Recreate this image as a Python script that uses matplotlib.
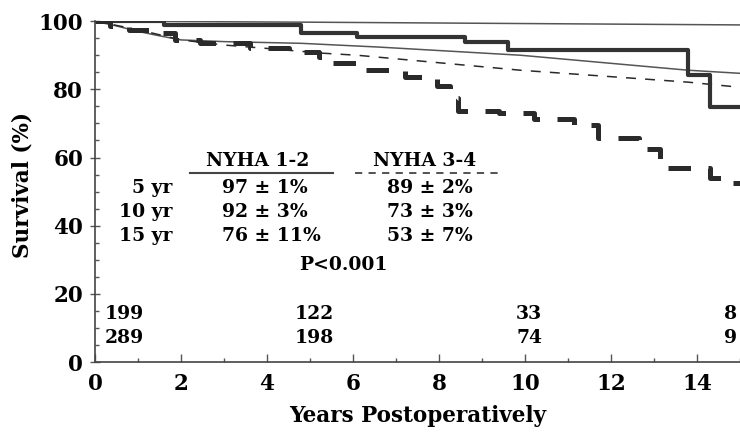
import matplotlib.pyplot as plt
from matplotlib.ticker import MultipleLocator

# Kaplan-Meier survival
years_12 = [0, 1.6, 4.8, 6.1, 8.6, 9.6, 13.8, 14.3, 15]
surv_12 = [100, 98.8, 96.5, 95.3, 93.8, 91.5, 84.2, 74.8, 74.8]

years_34 = [0, 0.35, 0.8, 1.3, 1.85, 2.45, 3.6, 4.5, 5.2, 5.45, 6.25, 7.2,
            7.95, 8.25, 8.45, 9.4, 10.2, 11.15, 11.7, 12.65, 13.15, 14.3, 14.7, 15]
surv_34 = [100, 98.5, 97.5, 96.5, 94.5, 93.5, 92, 91, 89.5, 87.7, 85.6, 83.5,
           81, 77.5, 73.6, 73, 71.3, 69.5, 65.6, 62.5, 56.8, 54, 52.5, 52.5]

# expected survival curves (thin lines)
exp_top_years = [0, 5, 10, 15]
exp_top = [100, 99.7, 99.3, 98.9]
exp_12_years = [0, 0.5, 1, 1.5, 2, 3, 4.8, 6.6, 9.9, 13.8, 15]
exp_12 = [100, 98.6, 97, 95.7, 94.5, 94, 93.5, 92.4, 90, 85.6, 84.7]
exp_34_years = [0, 1, 2, 3, 4, 5.3, 6.1, 9.9, 13.8, 15]
exp_34 = [100, 97.5, 94.5, 93, 92, 90.6, 90, 85.6, 82.1, 80.6]

# table text
row_labels = ['5 yr', '10 yr', '15 yr']
col_12 = ['97 ± 1%', '92 ± 3%', '76 ± 11%']
col_34 = ['89 ± 2%', '73 ± 3%', '53 ± 7%']

# numbers at risk
risk_x = [0.69, 5.1, 10.1, 14.77]
risk_12 = ['199', '122', '33', '8']
risk_34 = ['289', '198', '74', '9']

plt.rcParams['font.family'] = 'DejaVu Serif'
plt.rcParams['font.weight'] = 'bold'
plt.rcParams['axes.labelweight'] = 'bold'

fig = plt.figure(figsize=(7.4, 4.32), dpi=100)
ax = fig.add_axes([0.1284, 0.162, 1 - 0.1284, 0.789])

ink = '#2a2a2a'
ax.plot(exp_top_years, exp_top, color='#555555', lw=1.1)
ax.plot(exp_12_years, exp_12, color='#555555', lw=1.1)
ax.plot(exp_34_years, exp_34, color=ink, lw=1.1, dashes=(6.5, 6))
ax.plot(years_12, surv_12, color='#333333', lw=3, drawstyle='steps-post')
ax.plot(years_34, surv_34, color=ink, lw=3.6, drawstyle='steps-post',
        dashes=(4.5, 3.5))

ax.set_xlim(0, 15)
ax.set_ylim(0, 100)
for s in ['top', 'right']:
    ax.spines[s].set_visible(False)
for s in ['left', 'bottom']:
    ax.spines[s].set_color('#444444')
    ax.spines[s].set_linewidth(1.2)

ax.xaxis.set_major_locator(MultipleLocator(2))
ax.xaxis.set_minor_locator(MultipleLocator(1))
ax.yaxis.set_major_locator(MultipleLocator(20))
ax.yaxis.set_minor_locator(MultipleLocator(5))
ax.tick_params(axis='x', which='major', direction='in', length=6, width=1,
               color='#555555', labelsize=15.5, pad=8)
ax.tick_params(axis='x', which='minor', direction='in', length=3, width=1,
               color='#555555')
ax.tick_params(axis='y', which='major', direction='inout', length=7, width=1,
               color='#555555', labelsize=15.5, pad=5)
ax.tick_params(axis='y', which='minor', direction='in', length=3, width=1,
               color='#555555')

ax.set_xlabel('Years Postoperatively', fontsize=15.5)
ax.set_ylabel('Survival (%)', fontsize=15.5)
ax.xaxis.set_label_coords(0.5, -0.127)
ax.yaxis.set_label_coords(-0.096, 0.519)

fs = 13.5
ax.text(3.79, 59.1, 'NYHA 1-2', ha='center', va='center', fontsize=fs)
ax.text(7.67, 59.1, 'NYHA 3-4', ha='center', va='center', fontsize=fs)
ax.plot([2.21, 5.53], [55.5, 55.5], color='#444444', lw=1.5)
ax.plot([6.05, 9.4], [55.5, 55.5], color='#444444', lw=1.3, dashes=(4, 3.5))
row_y = [51.0, 44.1, 37.0]
for lab, a, b, y in zip(row_labels, col_12, col_34, row_y):
    ax.text(1.81, y, lab, ha='right', va='center', fontsize=fs)
    ax.text(2.95, y, a, ha='left', va='center', fontsize=fs)
    ax.text(6.79, y, b, ha='left', va='center', fontsize=fs)
ax.text(5.77, 28.6, 'P<0.001', ha='center', va='center', fontsize=fs)

for x, a, b in zip(risk_x, risk_12, risk_34):
    ax.text(x, 14.1, a, ha='center', va='center', fontsize=fs)
    ax.text(x, 7.0, b, ha='center', va='center', fontsize=fs)

fig.savefig('out.png', dpi=100)
